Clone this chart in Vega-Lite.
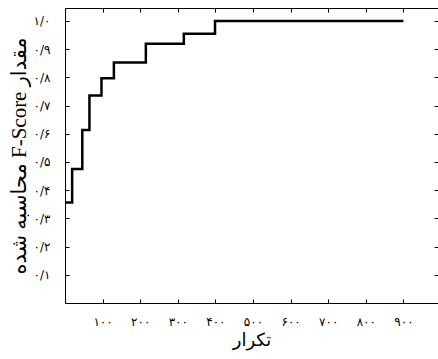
{
  "$schema": "https://vega.github.io/schema/vega-lite/v6.json",
  "width": 373,
  "height": 295,
  "autosize": {"type": "none"},
  "padding": {"left": 65, "top": 8, "right": 0, "bottom": 56},
  "background": "white",
  "config": {
    "view": {"stroke": "black", "strokeWidth": 1},
    "axis": {
      "domain": false,
      "grid": false,
      "ticks": true,
      "tickColor": "black",
      "tickSize": -4,
      "labelColor": "black",
      "titleColor": "black",
      "labelFont": "DejaVu Sans",
      "labelFontSize": 12,
      "titleFont": "Liberation Serif, DejaVu Sans",
      "titleFontWeight": "normal",
      "titleFontSize": 18
    }
  },
  "data": {
    "values": [
      {"iter": 1, "f": 0.356},
      {"iter": 19, "f": 0.475},
      {"iter": 46, "f": 0.613},
      {"iter": 65, "f": 0.736},
      {"iter": 97, "f": 0.797},
      {"iter": 130, "f": 0.853},
      {"iter": 215, "f": 0.919},
      {"iter": 316, "f": 0.955},
      {"iter": 399, "f": 1.0},
      {"iter": 900, "f": 1.0}
    ]
  },
  "layer": [
    {
      "mark": {"type": "line", "interpolate": "step-after", "color": "black", "strokeWidth": 2.5},
      "encoding": {
        "x": {
          "field": "iter", "type": "quantitative",
          "scale": {"domain": [0, 992], "nice": false, "zero": false},
          "axis": {
            "orient": "bottom",
            "values": [100, 200, 300, 400, 500, 600, 700, 800, 900],
            "labelPadding": 17,
            "labelExpr": "replace(replace(replace(replace(replace(replace(replace(replace(replace(replace(datum.label, regexp('0','g'), '۰'), regexp('1','g'), '۱'), regexp('2','g'), '۲'), regexp('3','g'), '۳'), regexp('4','g'), '۴'), regexp('5','g'), '۵'), regexp('6','g'), '۶'), regexp('7','g'), '۷'), regexp('8','g'), '۸'), regexp('9','g'), '۹')",
            "format": "d",
            "title": "تکرار",
            "titlePadding": 4
          }
        },
        "y": {
          "field": "f", "type": "quantitative",
          "scale": {"domain": [0, 1.046], "nice": false, "zero": false},
          "axis": {
            "orient": "left",
            "values": [0.1, 0.2, 0.3, 0.4, 0.5, 0.6, 0.7, 0.8, 0.9, 1.0],
            "format": ".1f",
            "labelPadding": 19,
            "labelExpr": "replace(replace(replace(replace(replace(replace(replace(replace(replace(replace(replace(datum.label, regexp('\\\\.','g'), '/'), regexp('0','g'), '۰'), regexp('1','g'), '۱'), regexp('2','g'), '۲'), regexp('3','g'), '۳'), regexp('4','g'), '۴'), regexp('5','g'), '۵'), regexp('6','g'), '۶'), regexp('7','g'), '۷'), regexp('8','g'), '۸'), regexp('9','g'), '۹')",
            "title": "\u202Bمقدار F-Score محاسبه شده\u202C",
            "titleFontSize": 21,
            "titlePadding": 4
          }
        }
      }
    },
    {
      "mark": {"type": "line", "interpolate": "step-after", "color": "black", "strokeWidth": 2.5, "opacity": 0},
      "encoding": {
        "x": {
          "field": "iter", "type": "quantitative",
          "axis": {"orient": "top", "values": [100, 200, 300, 400, 500, 600, 700, 800, 900], "labels": false, "title": null}
        },
        "y": {
          "field": "f", "type": "quantitative",
          "axis": {"orient": "right", "values": [0.1, 0.2, 0.3, 0.4, 0.5, 0.6, 0.7, 0.8, 0.9, 1.0], "labels": false, "title": null}
        }
      }
    }
  ],
  "resolve": {"axis": {"x": "independent", "y": "independent"}}
}
